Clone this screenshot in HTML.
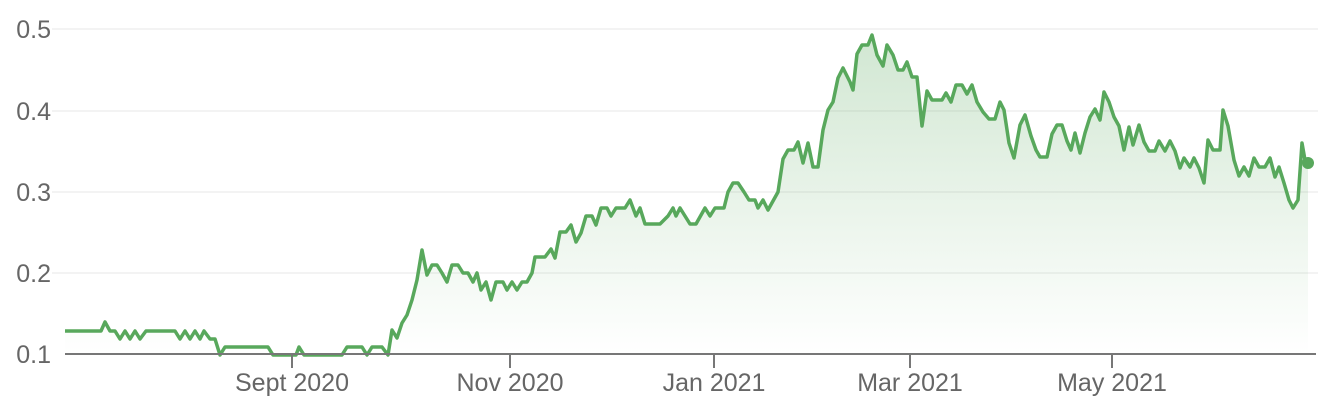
<!DOCTYPE html>
<html><head><meta charset="utf-8"><style>
html,body{margin:0;padding:0;background:#fff;}
svg{display:block;font-family:"Liberation Sans",sans-serif;}
</style></head><body>
<svg width="1336" height="412" viewBox="0 0 1336 412" xmlns="http://www.w3.org/2000/svg">
<defs>
<linearGradient id="g" x1="0" y1="30" x2="0" y2="354" gradientUnits="userSpaceOnUse">
<stop offset="0" stop-color="#58a85c" stop-opacity="0.28"/>
<stop offset="1" stop-color="#58a85c" stop-opacity="0"/>
</linearGradient>
</defs>
<g stroke="#efefef" stroke-width="1.5">
<line x1="52" y1="29" x2="1318" y2="29"/>
<line x1="52" y1="111" x2="1318" y2="111"/>
<line x1="52" y1="192" x2="1318" y2="192"/>
<line x1="52" y1="273" x2="1318" y2="273"/>
</g>
<g fill="#666" font-size="25" text-anchor="end">
<text x="51" y="38">0.5</text>
<text x="51" y="120">0.4</text>
<text x="51" y="201">0.3</text>
<text x="51" y="282">0.2</text>
<text x="51" y="363">0.1</text>
</g>
<g fill="#666" font-size="25" text-anchor="middle">
<text x="292" y="391">Sept 2020</text>
<text x="510" y="391">Nov 2020</text>
<text x="714" y="391">Jan 2021</text>
<text x="910" y="391">Mar 2021</text>
<text x="1112" y="391">May 2021</text>
</g>
<polygon fill="url(#g)" points="65,354 65,331 101,331 105,322 110,331 115,331 120,339 125,331 130,339 135,331 140,339 146,331 175,331 180,339 185,331 190,339 195,331 200,339 204,331 210,339 215,339 220,355 225,347 268,347 273,355 296,355 299,347 304,355 342,355 347,347 362,347 367,355 372,347 382,347 388,355 392,330 397,338 402,323 407,315 412,300 417,280 422,250 427,275 432,265 437,265 442,273 447,282 452,265 458,265 463,273 468,273 473,282 477,273 481,290 486,282 491,300 496,282 503,282 507,290 512,282 517,290 522,282 527,282 532,273 535,257 545,257 551,249 555,258 560,232 566,232 571,225 576,242 581,233 586,216 592,216 596,225 601,208 607,208 611,216 616,208 625,208 630,200 636,216 640,208 645,224 660,224 668,216 673,208 676,216 680,208 685,216 690,224 696,224 705,208 710,216 715,208 724,208 728,192 733,183 738,183 744,192 749,200 755,200 758,208 763,200 768,210 778,192 783,159 788,150 794,150 798,142 803,163 808,143 813,167 818,167 823,130 828,110 833,102 838,78 843,68 850,82 853,90 857,54 862,45 868,45 872,35 877,55 883,66 887,45 893,55 898,70 903,70 907,62 912,77 917,77 922,126 927,91 932,100 942,100 946,93 951,102 956,85 962,85 967,94 972,85 977,102 983,112 989,119 995,119 1000,102 1004,110 1009,143 1014,158 1020,125 1025,115 1031,136 1036,150 1040,157 1047,157 1052,134 1057,125 1062,125 1067,141 1071,150 1075,133 1080,153 1085,133 1090,117 1095,109 1100,120 1104,92 1109,102 1114,117 1119,126 1124,150 1129,127 1133,145 1139,125 1144,142 1149,151 1155,151 1159,141 1165,151 1170,141 1175,151 1180,168 1184,158 1190,167 1194,158 1199,168 1204,183 1208,140 1213,150 1220,150 1223,110 1228,126 1234,160 1239,176 1244,167 1249,176 1254,158 1259,167 1265,167 1270,158 1275,177 1279,167 1284,183 1289,200 1293,208 1298,200 1302,143 1305,160 1308,163 1308,354"/>
<polyline fill="none" stroke="#58a85c" stroke-width="3.5" stroke-linejoin="round" points="65,331 101,331 105,322 110,331 115,331 120,339 125,331 130,339 135,331 140,339 146,331 175,331 180,339 185,331 190,339 195,331 200,339 204,331 210,339 215,339 220,355 225,347 268,347 273,355 296,355 299,347 304,355 342,355 347,347 362,347 367,355 372,347 382,347 388,355 392,330 397,338 402,323 407,315 412,300 417,280 422,250 427,275 432,265 437,265 442,273 447,282 452,265 458,265 463,273 468,273 473,282 477,273 481,290 486,282 491,300 496,282 503,282 507,290 512,282 517,290 522,282 527,282 532,273 535,257 545,257 551,249 555,258 560,232 566,232 571,225 576,242 581,233 586,216 592,216 596,225 601,208 607,208 611,216 616,208 625,208 630,200 636,216 640,208 645,224 660,224 668,216 673,208 676,216 680,208 685,216 690,224 696,224 705,208 710,216 715,208 724,208 728,192 733,183 738,183 744,192 749,200 755,200 758,208 763,200 768,210 778,192 783,159 788,150 794,150 798,142 803,163 808,143 813,167 818,167 823,130 828,110 833,102 838,78 843,68 850,82 853,90 857,54 862,45 868,45 872,35 877,55 883,66 887,45 893,55 898,70 903,70 907,62 912,77 917,77 922,126 927,91 932,100 942,100 946,93 951,102 956,85 962,85 967,94 972,85 977,102 983,112 989,119 995,119 1000,102 1004,110 1009,143 1014,158 1020,125 1025,115 1031,136 1036,150 1040,157 1047,157 1052,134 1057,125 1062,125 1067,141 1071,150 1075,133 1080,153 1085,133 1090,117 1095,109 1100,120 1104,92 1109,102 1114,117 1119,126 1124,150 1129,127 1133,145 1139,125 1144,142 1149,151 1155,151 1159,141 1165,151 1170,141 1175,151 1180,168 1184,158 1190,167 1194,158 1199,168 1204,183 1208,140 1213,150 1220,150 1223,110 1228,126 1234,160 1239,176 1244,167 1249,176 1254,158 1259,167 1265,167 1270,158 1275,177 1279,167 1284,183 1289,200 1293,208 1298,200 1302,143 1305,160 1308,163"/>
<circle cx="1308" cy="163" r="6" fill="#58a85c"/>
<line x1="65" y1="354" x2="1316" y2="354" stroke="#777" stroke-width="2"/>
<g stroke="#777" stroke-width="2">
<line x1="292" y1="354" x2="292" y2="368"/>
<line x1="510" y1="354" x2="510" y2="368"/>
<line x1="714" y1="354" x2="714" y2="368"/>
<line x1="910" y1="354" x2="910" y2="368"/>
<line x1="1112" y1="354" x2="1112" y2="368"/>
</g>
</svg>
</body></html>
